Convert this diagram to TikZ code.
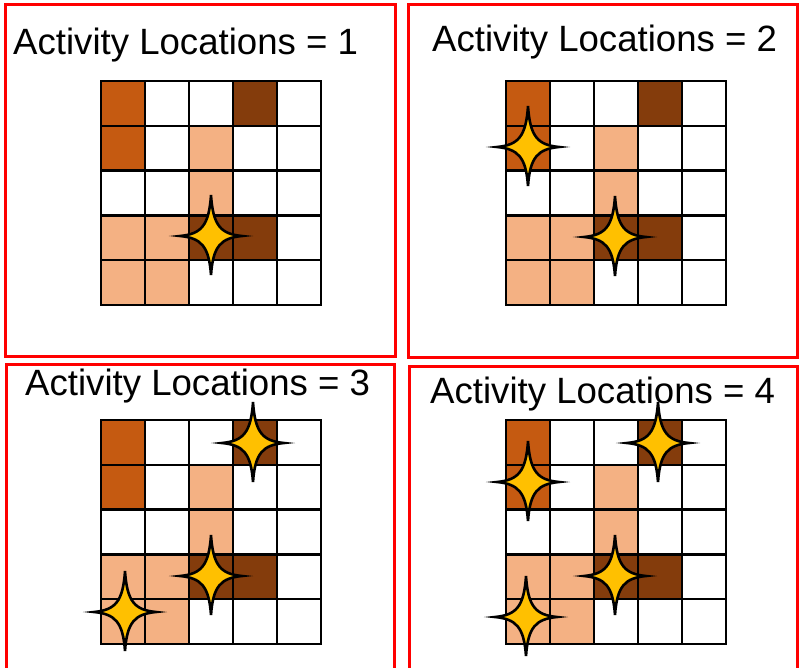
\documentclass[tikz,border=0pt]{standalone}
\usepackage{fontspec}
\setmainfont{Liberation Sans}
\usepackage{tikz}
\usetikzlibrary{positioning}
\definecolor{cellorange}{RGB}{197, 90, 17}
\definecolor{cellbrown}{RGB}{132, 60, 12}
\definecolor{cellsalmon}{RGB}{244, 177, 131}
\definecolor{sparkgold}{RGB}{255, 192, 0}
\definecolor{framered}{RGB}{255, 0, 0}

\tikzset{
  sparkle/.pic={
    \draw[sparkline] (0,-41) .. controls (2,-10) and (10,-2) .. (31,0)
      .. controls (10,2) and (2,10) .. (0,39)
      .. controls (-2,10) and (-10,2) .. (-31,0)
      .. controls (-10,-2) and (-2,-10) .. cycle;
  }
}

\begin{document}
\begin{tikzpicture}[
    x=1pt, y=-1pt,
    panelframe/.style={draw=framered, line width=3pt},
    paneltitle/.style={anchor=base west, inner sep=0pt, font=\fontsize{36.6}{40}\selectfont},
    gridline/.style={black, line width=2.5pt, line cap=rect},
    sparkline/.style={draw=black, fill=sparkgold, line width=2.6pt}
  ]
  \useasboundingbox (0,0) rectangle (799,668);

  % Red panel frames
  \draw[panelframe] (5,5) rectangle (395,356.5);
  \draw[panelframe] (408,5) rectangle (797,357);
  \draw[panelframe] (6.5,364) rectangle (394,675);
  \draw[panelframe] (409,366) rectangle (797,675);

  % Panel titles
  \node[paneltitle] (title1) at (13,55) {Activity Locations = 1};
  \node[paneltitle] (title2) at (432,52) {Activity Locations = 2};
  \node[paneltitle] (title3) at (25,395) {Activity Locations = 3};
  \node[paneltitle] (title4) at (430,403) {Activity Locations = 4};

  % 5x5 grids, same colouring in every panel
  \foreach \px/\py in {101/81, 506/81, 101/420, 506/420} {
    \begin{scope}[shift={(\px,\py)}, x=44pt, y=-44.8pt]
      \foreach \c/\r/\col in {0/0/cellorange, 3/0/cellbrown, 0/1/cellorange,
          2/1/cellsalmon, 2/2/cellsalmon, 0/3/cellsalmon, 1/3/cellsalmon,
          2/3/cellbrown, 3/3/cellbrown, 0/4/cellsalmon, 1/4/cellsalmon} {
        \fill[\col] (\c,\r) rectangle ++(1,1);
      }
      \foreach \i in {0,...,5} {
        \draw[gridline] (\i,0) -- (\i,5);
        \draw[gridline] (0,\i) -- (5,\i);
      }
    \end{scope}
  }

  % Activity locations
  \pic (spark1a) at (211,236) {sparkle};

  \pic (spark2a) at (528,147) {sparkle};
  \pic (spark2b) at (615,237) {sparkle};

  \pic (spark3a) at (253,443) {sparkle};
  \pic (spark3b) at (211,576) {sparkle};
  \pic (spark3c) at (125,612) {sparkle};

  \pic (spark4a) at (658,443) {sparkle};
  \pic (spark4b) at (528,482) {sparkle};
  \pic (spark4c) at (615,576) {sparkle};
  \pic (spark4d) at (526,617) {sparkle};

\end{tikzpicture}
\end{document}
